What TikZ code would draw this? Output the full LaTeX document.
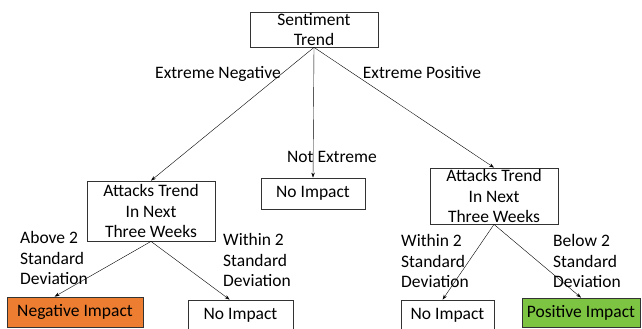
\documentclass[tikz,border=0pt]{standalone}
\usepackage{fontspec}
\setmainfont{Carlito}
\usetikzlibrary{arrows.meta}
\definecolor{negorange}{RGB}{237,125,49}
\definecolor{posgreen}{RGB}{125,196,66}
\begin{document}
\begin{tikzpicture}[x=1pt,y=-1pt,
    font=\fontsize{17.5}{20.5}\selectfont,
    box/.style={draw=black!80,line width=0.8pt,inner sep=0pt,align=center,minimum width=#1},
    lbl/.style={inner sep=0pt,align=left},
    >={Stealth[length=5pt,width=3.5pt]}]
    \useasboundingbox(0,0)rectangle(642,329);
    \clip(0,0)rectangle(642,329);
    \node[box=128pt,minimum height=35pt](trend)at(314,29.5){Sentiment\\Trend};
    \node[box=128pt,minimum height=60pt](attL)at(151,211){Attacks Trend\\In Next\\Three Weeks};
    \node[box=104pt,minimum height=31pt](midNo)at(313,193.5){No Impact};
    \node[box=128pt,minimum height=56pt](attR)at(494,196){Attacks Trend\\In Next\\Three Weeks};
    \node[box=136pt,minimum height=30pt,fill=negorange](negImp)at(75,312){Negative Impact};
    \node[box=105pt,minimum height=31pt](noL)at(240.5,315.5){No Impact};
    \node[box=93pt,minimum height=31pt](noR)at(447.5,315.5){No Impact};
    \node[box=118pt,minimum height=29pt,fill=posgreen](posImp)at(581,312.5){Positive Impact};

    \draw[->](trend.south)--(attL.north);
    \draw[->](trend.south)--(midNo.north);
    \draw[->](trend.south)--(attR.north);
    \draw[->](attL.south)--([xshift=48pt]negImp.north west);
    \draw[->](attL.south)--([xshift=42pt]noL.north west);
    \draw[->](attR.south)--([xshift=42pt]noR.north west);
    \draw[->](attR.south)--(posImp.north);

    \node[lbl](extNeg)at(218,74){Extreme Negative};
    \node[lbl](extPos)at(422,73){Extreme Positive};
    \node[lbl](notExt)at(332,157){Not Extreme};
    \node[lbl,anchor=west](aboveL)at(20,258){Above 2\\Standard\\Deviation};
    \node[lbl,anchor=west](withinL)at(223,260){Within 2\\Standard\\Deviation};
    \node[lbl,anchor=west](withinR)at(401,261){Within 2\\Standard\\Deviation};
    \node[lbl,anchor=west](belowR)at(553,261){Below 2\\Standard\\Deviation};
\end{tikzpicture}
\end{document}
